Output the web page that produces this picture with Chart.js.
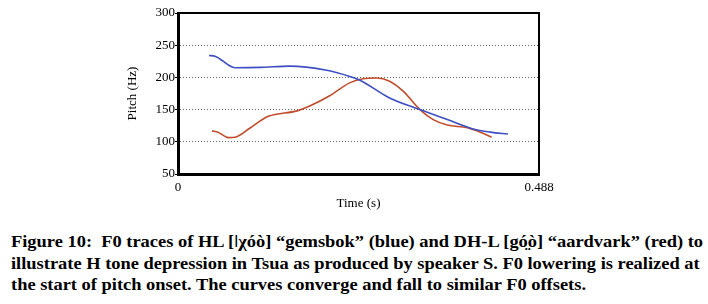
<!DOCTYPE html>
<html>
<head>
<meta charset="utf-8">
<script src="https://cdn.jsdelivr.net/npm/chart.js@4.4.1/dist/chart.umd.min.js"></script>
<style>
  body { margin: 0; background: #fff; }
  #wrap { position: absolute; left: 0; top: 0; width: 708px; height: 215px; }
  .cap { position: absolute; left: 11px; white-space: nowrap; font: bold 17px "Liberation Serif", "Times New Roman", serif;
         color: #000; transform-origin: 0 0; line-height: 17px; }
</style>
</head>
<body>
<div id="wrap"><canvas id="myChart"></canvas></div>
<div class="cap" id="l1" style="top:233px">Figure 10:&nbsp; F0 traces of HL [ǀχóò] “gemsbok” (blue) and DH-L [gó̤ò] “aardvark” (red) to</div>
<div class="cap" id="l2" style="top:254.5px">illustrate H tone depression in Tsua as produced by speaker S. F0 lowering is realized at</div>
<div class="cap" id="l3" style="top:275.5px">the start of pitch onset. The curves converge and fall to similar F0 offsets.</div>
<script>
// time (s) and pitch (Hz)
var blueTime  = [0.042, 0.050, 0.077, 0.111, 0.151, 0.201, 0.232, 0.246, 0.286, 0.327, 0.364, 0.399, 0.422, 0.446];
var bluePitch = [234, 233, 215, 215.5, 217.5, 211, 201.5, 195.5, 168, 150, 134.5, 120, 115, 112];
var redTime   = [0.046, 0.054, 0.068, 0.077, 0.097, 0.122, 0.161, 0.178, 0.205, 0.232, 0.250, 0.269, 0.286, 0.304, 0.327, 0.345, 0.364, 0.391, 0.404, 0.424];
var redPitch  = [117, 115, 106.5, 107, 121, 139.5, 148, 155.5, 171.5, 191.5, 198, 199, 194, 179, 150, 134.5, 126, 122, 117, 107];
var xTicks = [0, 0.488];

function pts(xs, ys) {
    return xs.map(function(x, i) { return {x: x, y: ys[i]}; });
}

var frame = {
    id: 'frame',
    beforeDatasetsDraw: function(chart) {
        var a = chart.chartArea, c = chart.ctx;
        c.save();
        c.strokeStyle = '#000';
        c.lineWidth = 2;
        c.beginPath();
        c.moveTo(a.left, a.top); c.lineTo(a.right, a.top); c.lineTo(a.right, a.bottom);
        c.stroke();
        c.restore();
    }
};

var serif = '"Liberation Serif", "Times New Roman", serif';
var ctx = document.getElementById('myChart').getContext('2d');
Chart.defaults.font.family = serif;
Chart.defaults.color = '#000';
window.pitchChart = new Chart(ctx, {
    type: 'line',
    data: {
        datasets: [{
            label: 'gemsbok',
            data: pts(blueTime, bluePitch),
            borderColor: '#3d4fc2',
            borderWidth: 1.6,
            pointRadius: 0,
            cubicInterpolationMode: 'monotone'
        }, {
            label: 'aardvark',
            data: pts(redTime, redPitch),
            borderColor: '#c24d2c',
            borderWidth: 1.6,
            pointRadius: 0,
            cubicInterpolationMode: 'monotone'
        }]
    },
    options: {
        responsive: true,
        maintainAspectRatio: false,
        animation: false,
        layout: { padding: { top: 13, right: 169, left: 0, bottom: 0 } },
        plugins: { legend: { display: false }, tooltip: { enabled: false } },
        scales: {
            x: {
                type: 'linear',
                min: 0,
                max: 0.488,
                afterBuildTicks: function(s) { s.ticks = xTicks.map(function(v) { return {value: v}; }); },
                afterFit: function(s) { s.height = 41; },
                ticks: { autoSkip: false, maxRotation: 0, padding: 6, font: { size: 13 },
                         callback: function(v) { return String(v); } },
                grid: { display: false, drawTicks: false },
                border: { color: '#000', width: 3 },
                title: { display: true, text: 'Time (s)', font: { size: 13 }, padding: { top: 0, bottom: 4 } }
            },
            y: {
                min: 50,
                max: 300,
                afterFit: function(s) { s.width = 178; },
                ticks: { stepSize: 50, padding: 0, font: { size: 13 } },
                grid: { color: '#666', tickColor: '#000', tickLength: 3, tickBorderDash: [] },
                border: { color: '#000', width: 3, dash: [1, 2] },
                title: { display: true, text: 'Pitch (Hz)', font: { size: 13 }, padding: { top: 125, bottom: 0 } }
            }
        }
    },
    plugins: [frame]
});

// squeeze the caption to the width it has in the figure
var l1 = document.getElementById('l1');
var k = 692 / l1.getBoundingClientRect().width;
['l1', 'l2', 'l3'].forEach(function(id) {
    document.getElementById(id).style.transform = 'scaleX(' + k + ')';
});
</script>
</body>
</html>
